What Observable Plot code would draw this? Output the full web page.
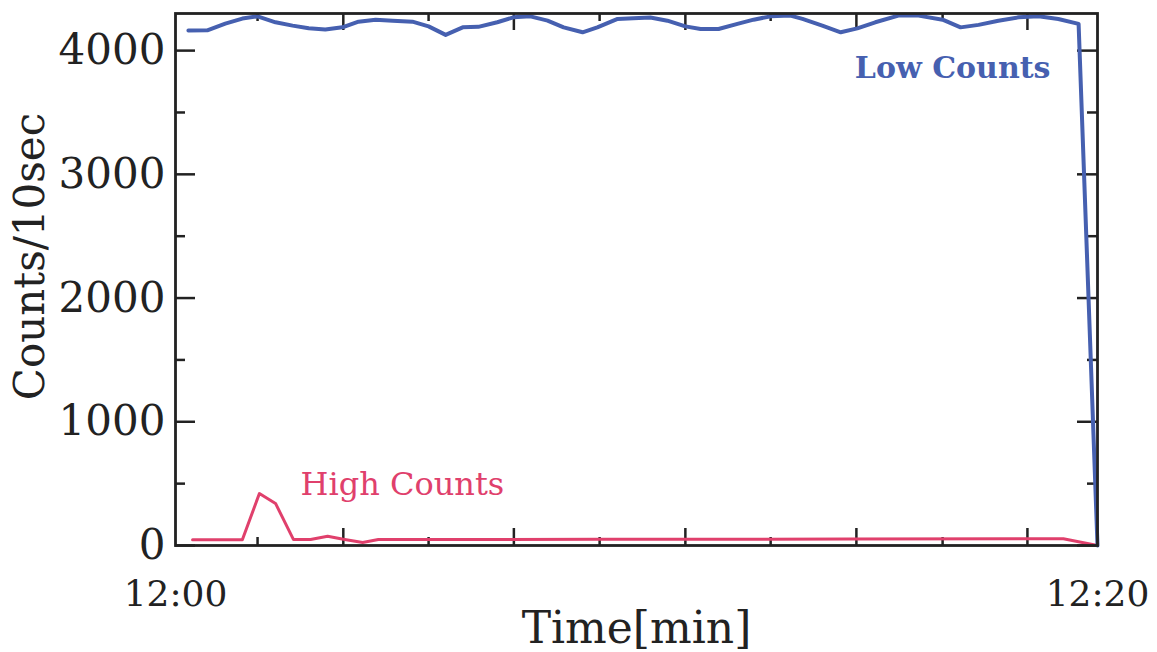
<!DOCTYPE html>
<html>
<head>
<meta charset="utf-8">
<script src="https://cdn.jsdelivr.net/npm/d3@7"></script>
<script src="https://cdn.jsdelivr.net/npm/@observablehq/plot@0.6"></script>
<style>
  html, body { margin: 0; padding: 0; background: #ffffff; }
  #chart svg { display: block; }
</style>
</head>
<body>
<div id="chart"></div>
<script>
// Time in minutes after 12:00, counts per 10 sec
const lowT = [0.28,0.69,1.08,1.45,1.78,2.17,2.54,2.89,3.25,3.62,3.97,4.34,4.71,5.14,5.49,5.86,6.23,6.57,6.98,7.33,7.70,8.07,8.42,8.83,9.15,9.59,9.93,10.30,10.67,11.06,11.39,11.78,12.19,12.54,12.91,13.34,13.60,14.03,14.43,14.79,15.18,15.68,16.12,16.64,17.03,17.42,17.85,18.29,18.72,19.15,19.59,20.0];
const lowV = [4162,4164,4218,4259,4277,4229,4202,4180,4170,4188,4234,4250,4242,4234,4196,4127,4188,4192,4229,4269,4277,4242,4188,4148,4188,4256,4261,4267,4242,4196,4175,4175,4216,4250,4277,4283,4256,4202,4148,4180,4229,4283,4283,4250,4188,4208,4242,4269,4277,4256,4216,0];
const highT = [0.37,1.45,1.82,2.17,2.56,2.93,3.30,3.64,4.06,4.40,9.20,14.60,19.26,20.0];
const highV = [46,46,420,340,48,48,75,50,25,48,50,52,55,0];

const xMajorTicks = [3.64,7.34,11.06,14.77,18.48];
const xMinorTicks = [1.78,5.49,9.20,12.91,16.64];
const xLabelTicks = [0, 20];
const xLabelText = ["12:00", "12:20"];
const yMajorTicks = [0,1000,2000,3000,4000];
const yMinorTicks = [500,1500,2500,3500];

const lowLabel = "Low Counts";
const highLabel = "High Counts";
const xTitle = "Time[min]";
const yTitle = "Counts/10sec";

const low = lowT.map((t, i) => ({t, v: lowV[i]}));
const high = highT.map((t, i) => ({t, v: highV[i]}));

const W = 1157, H = 652;
const mL = 175, mR = 60, mT = 13, mB = 107;
const innerW = W - mL - mR, innerH = H - mT - mB;
const ink = "#222";
const blue = "#4660b0";
const pink = "#e0406c";

const chart = Plot.plot({
  width: W,
  height: H,
  marginLeft: mL,
  marginRight: mR,
  marginTop: mT,
  marginBottom: mB,
  style: {fontFamily: "'DejaVu Serif', serif", background: "#ffffff", color: ink},
  x: {type: "linear", domain: [0, 20], axis: null, label: null},
  y: {type: "linear", domain: [0, 4300], axis: null, label: null},
  marks: [
    // inward ticks, bottom & top
    Plot.tickX(xMajorTicks, {x: d => d, stroke: ink, strokeWidth: 2.5, insetTop: innerH - 17}),
    Plot.tickX(xMinorTicks, {x: d => d, stroke: ink, strokeWidth: 2.5, insetTop: innerH - 8}),
    Plot.tickX(xMajorTicks, {x: d => d, stroke: ink, strokeWidth: 2.5, insetBottom: innerH - 17}),
    Plot.tickX(xMinorTicks, {x: d => d, stroke: ink, strokeWidth: 2.5, insetBottom: innerH - 8}),
    // inward ticks, left & right
    Plot.tickY(yMajorTicks, {y: d => d, stroke: ink, strokeWidth: 2.5, insetRight: innerW - 20}),
    Plot.tickY(yMinorTicks, {y: d => d, stroke: ink, strokeWidth: 2.5, insetRight: innerW - 10}),
    Plot.tickY(yMajorTicks, {y: d => d, stroke: ink, strokeWidth: 2.5, insetLeft: innerW - 20}),
    Plot.tickY(yMinorTicks, {y: d => d, stroke: ink, strokeWidth: 2.5, insetLeft: innerW - 10}),
    // tick labels
    Plot.axisY(yMajorTicks, {anchor: "left", label: null, tickSize: 0, tickPadding: 10, fontSize: 42, fill: ink, tickFormat: d => String(d)}),
    Plot.axisX(xLabelTicks, {anchor: "bottom", label: null, tickSize: 0, tickPadding: 35, fontSize: 36, fill: ink, tickFormat: d => xLabelText[xLabelTicks.indexOf(d)]}),
    // data lines
    Plot.line(high, {x: "t", y: "v", stroke: pink, strokeWidth: 3}),
    Plot.line(low, {x: "t", y: "v", stroke: blue, strokeWidth: 4}),
    // frame
    Plot.frame({stroke: ink, strokeWidth: 2.8}),
    // series labels
    Plot.text([lowLabel], {frameAnchor: "top-right", textAnchor: "end", lineAnchor: "middle", dx: -47, dy: 55, fontSize: 30, fontWeight: "bold", fill: blue, text: d => d}),
    Plot.text([highLabel], {frameAnchor: "bottom-left", textAnchor: "start", lineAnchor: "middle", dx: 125, dy: -61, fontSize: 32, fill: pink, text: d => d}),
    // axis titles
    Plot.text([xTitle], {frameAnchor: "bottom", textAnchor: "middle", lineAnchor: "middle", dy: 83, fontSize: 44, fill: ink, text: d => d}),
    Plot.text([yTitle], {frameAnchor: "left", textAnchor: "middle", lineAnchor: "middle", rotate: -90, dx: -145, dy: -23, fontSize: 42, fill: ink, text: d => d})
  ]
});

document.getElementById("chart").appendChild(chart);
</script>
</body>
</html>
